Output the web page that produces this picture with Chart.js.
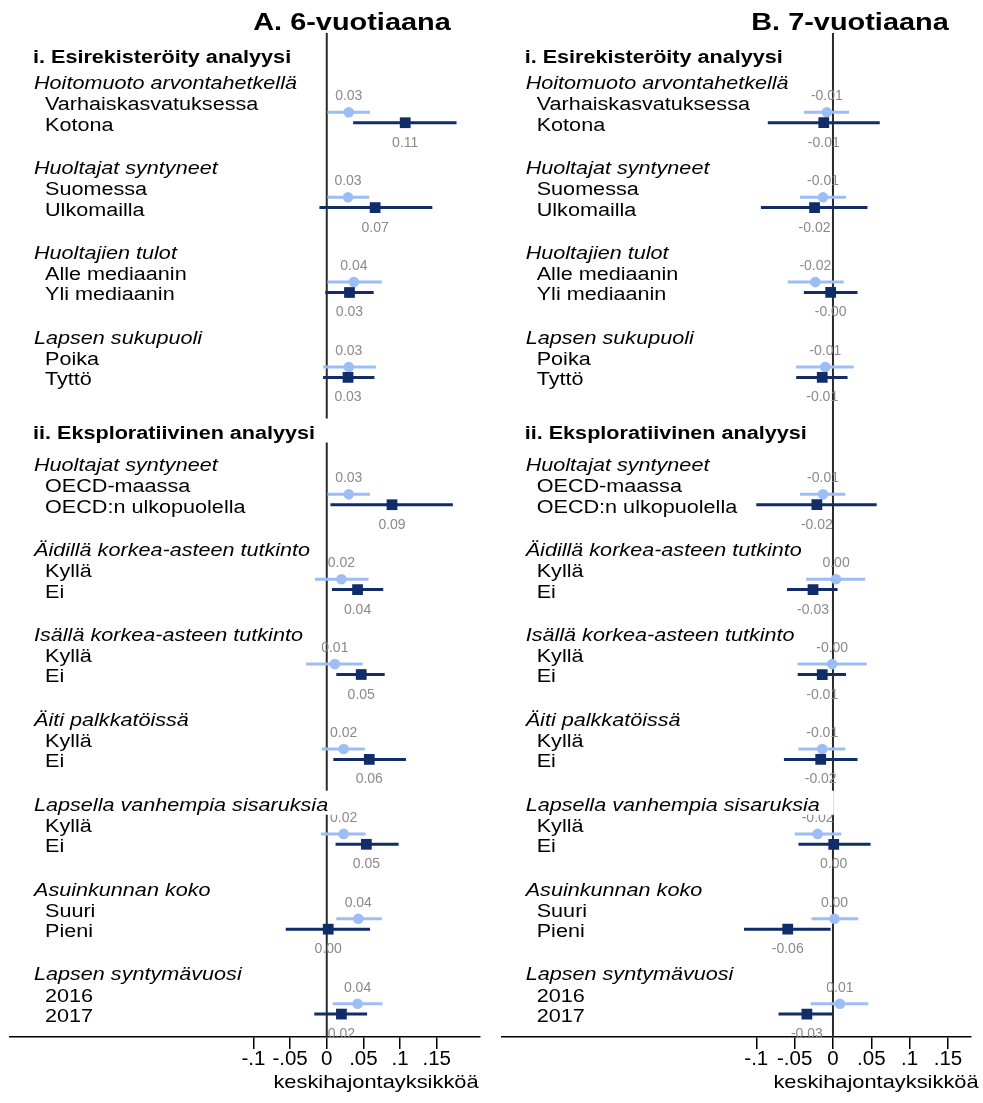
<!DOCTYPE html>
<html>
<head>
<meta charset="utf-8">
<script src="https://cdn.jsdelivr.net/npm/chart.js@4/dist/chart.umd.min.js"></script>
<style>
  html, body { margin: 0; padding: 0; background: #fff; }
  #wrap { position: relative; width: 983px; height: 1103px; background: #fff; }
  canvas { position: absolute; top: 0; }
</style>
</head>
<body>
<div id="wrap">
  <canvas id="panelA" width="491" height="1103" style="left:0;width:491px;height:1103px"></canvas>
  <canvas id="panelB" width="492" height="1103" style="left:491px;width:492px;height:1103px"></canvas>
</div>
<script>
// ---- labels ----
const sectionTitles = ['i. Esirekisteröity analyysi', 'ii. Eksploratiivinen analyysi'];
const groupTitles = [
  'Hoitomuoto arvontahetkellä', 'Huoltajat syntyneet', 'Huoltajien tulot', 'Lapsen sukupuoli',
  'Huoltajat syntyneet', 'Äidillä korkea-asteen tutkinto', 'Isällä korkea-asteen tutkinto',
  'Äiti palkkatöissä', 'Lapsella vanhempia sisaruksia', 'Asuinkunnan koko', 'Lapsen syntymävuosi'
];
const firstRowLabels = ['Varhaiskasvatuksessa', 'Suomessa', 'Alle mediaanin', 'Poika', 'OECD-maassa',
  'Kyllä', 'Kyllä', 'Kyllä', 'Kyllä', 'Suuri', '2016'];
const secondRowLabels = ['Kotona', 'Ulkomailla', 'Yli mediaanin', 'Tyttö', 'OECD:n ulkopuolella',
  'Ei', 'Ei', 'Ei', 'Ei', 'Pieni', '2017'];
const tickValues = [-0.1, -0.05, 0, 0.05, 0.1, 0.15];
const tickLabels = ['-.1', '-.05', '0', '.05', '.1', '.15'];
const axisTitle = 'keskihajontayksikköä';

// ---- A. 6-vuotiaana ----
const estA1 = [0.030, 0.029, 0.037, 0.030, 0.030, 0.020, 0.011, 0.023, 0.023, 0.043, 0.042];
const loA1  = [0.001, 0.001, 0.001, -0.005, 0.001, -0.016, -0.028, -0.007, -0.008, 0.013, 0.008];
const hiA1  = [0.059, 0.058, 0.075, 0.067, 0.059, 0.057, 0.049, 0.052, 0.053, 0.075, 0.076];
const estA2 = [0.107, 0.066, 0.031, 0.029, 0.089, 0.042, 0.047, 0.058, 0.054, 0.002, 0.020];
const loA2  = [0.036, -0.010, -0.002, -0.005, 0.005, 0.007, 0.013, 0.009, 0.012, -0.056, -0.017];
const hiA2  = [0.177, 0.144, 0.064, 0.065, 0.172, 0.077, 0.079, 0.108, 0.098, 0.059, 0.055];

// ---- B. 7-vuotiaana ----
const estB1 = [-0.008, -0.013, -0.023, -0.010, -0.013, 0.004, -0.001, -0.014, -0.020, 0.002, 0.009];
const loB1  = [-0.038, -0.043, -0.059, -0.048, -0.043, -0.035, -0.046, -0.045, -0.050, -0.028, -0.029];
const hiB1  = [0.021, 0.017, 0.014, 0.027, 0.016, 0.042, 0.044, 0.016, 0.011, 0.033, 0.046];
const estB2 = [-0.012, -0.024, -0.003, -0.014, -0.021, -0.026, -0.014, -0.016, 0.001, -0.059, -0.034];
const loB2  = [-0.085, -0.094, -0.038, -0.048, -0.100, -0.060, -0.046, -0.064, -0.045, -0.116, -0.071];
const hiB2  = [0.061, 0.045, 0.032, 0.019, 0.057, 0.006, 0.017, 0.032, 0.049, -0.003, -0.001];

// ---- styling ----
const LIGHT = '#9dbdf7';
const DARK = '#112d69';
const VALUE_GREY = '#8a8a8a';
const FAMILY = '"Liberation Sans", Arial, Helvetica, sans-serif';
const SX = 1.15;               // horizontal stretch of the row texts
const LABEL_PX = 18.8;

// each group takes four text lines; section ii starts after two extra lines
function groupPos(k) { return 4 + 4 * k + (k >= 4 ? 2 : 0); }
const FIRST_ROW_SHIFT = 0.49;

function drawStretched(ctx, text, x, y, font, color, align, sx) {
  ctx.save();
  ctx.font = font;
  ctx.fillStyle = color;
  ctx.textAlign = align;
  ctx.textBaseline = 'alphabetic';
  ctx.translate(x, y);
  ctx.scale(sx, 1);
  ctx.fillText(text, 0, 0);
  ctx.restore();
}

function ciLine(lo, hi, shift) {
  const out = [];
  lo.forEach((l, k) => {
    const y = groupPos(k) - shift;
    out.push({ x: l, y: y }, { x: hi[k], y: y }, { x: hi[k], y: null });
  });
  return out;
}
function points(est, shift) {
  return est.map((v, k) => ({ x: v, y: groupPos(k) - shift }));
}

function buildPanel(id, p) {
  const zeroLine = {
    id: 'zeroLine',
    beforeDatasetsDraw(chart) {
      const { ctx, chartArea, scales } = chart;
      const x = scales.x.getPixelForValue(0);
      ctx.save();
      ctx.strokeStyle = '#2a2a2a';
      ctx.lineWidth = 2;
      ctx.beginPath();
      ctx.moveTo(x, chartArea.top);
      ctx.lineTo(x, chartArea.bottom);
      ctx.stroke();
      ctx.restore();
    }
  };
  const texts = {
    id: 'texts',
    afterDatasetsDraw(chart) {
      const { ctx, chartArea, scales } = chart;
      const xs = scales.x, ys = scales.y;
      const valueFont = '14px ' + FAMILY;
      // value labels
      p.est1.forEach((v, k) => {
        const px = xs.getPixelForValue(v);
        const py = ys.getPixelForValue(groupPos(k) - FIRST_ROW_SHIFT);
        drawStretched(ctx, v.toFixed(2), px, py - 12, valueFont, VALUE_GREY, 'center', 1);
      });
      p.est2.forEach((v, k) => {
        const px = xs.getPixelForValue(v);
        const py = ys.getPixelForValue(groupPos(k));
        drawStretched(ctx, v.toFixed(2), px, py + 24, valueFont, VALUE_GREY, 'center', 1);
      });
      // row texts sit on white boxes
      const left = chartArea.left;
      const boldFont = 'bold ' + LABEL_PX + 'px ' + FAMILY;
      const italicFont = 'italic ' + LABEL_PX + 'px ' + FAMILY;
      const plainFont = LABEL_PX + 'px ' + FAMILY;
      const items = [
        [sectionTitles[0], left + 23, ys.getPixelForValue(1.2), boldFont],
        [sectionTitles[1], left + 23, ys.getPixelForValue(18.88), boldFont]
      ];
      groupTitles.forEach((g, k) => {
        const base = ys.getPixelForValue(groupPos(k));
        items.push([g, left + 24, base - 33.6, italicFont]);
        items.push([firstRowLabels[k], left + 35, base - 12.5, plainFont]);
        items.push([secondRowLabels[k], left + 35, base + 7.9, plainFont]);
      });
      ctx.save();
      ctx.fillStyle = '#ffffff';
      items.forEach(([t, x, y, f]) => {
        ctx.font = f;
        const w = ctx.measureText(t).width * SX;
        ctx.fillRect(x - 2, y - 20, w + 16, 24);
      });
      ctx.restore();
      items.forEach(([t, x, y, f]) => drawStretched(ctx, t, x, y, f, '#000', 'left', SX));
    },
    afterDraw(chart) {
      const { ctx } = chart;
      drawStretched(ctx, p.title, p.titleX, 29.5, 'bold 24.5px ' + FAMILY, '#000', 'center', 1.18);
      drawStretched(ctx, axisTitle, p.axisTitleX, 1087.5, '19px ' + FAMILY, '#000', 'center', SX);
    }
  };

  return new Chart(document.getElementById(id), {
    type: 'scatter',
    data: {
      datasets: [
        { data: points(p.est2, 0), pointStyle: 'rect', pointRadius: 7.6, pointHoverRadius: 7.6,
          backgroundColor: DARK, borderColor: DARK, pointBorderWidth: 0 },
        { data: points(p.est1, FIRST_ROW_SHIFT), pointStyle: 'circle', pointRadius: 5.3, pointHoverRadius: 5.3,
          backgroundColor: LIGHT, borderColor: LIGHT, pointBorderWidth: 0 },
        { type: 'line', data: ciLine(p.lo2, p.hi2, 0), borderColor: DARK, borderWidth: 3,
          pointRadius: 0, spanGaps: false, fill: false, tension: 0 },
        { type: 'line', data: ciLine(p.lo1, p.hi1, FIRST_ROW_SHIFT), borderColor: LIGHT, borderWidth: 3,
          pointRadius: 0, spanGaps: false, fill: false, tension: 0 }
      ]
    },
    options: {
      responsive: false,
      devicePixelRatio: 1,
      animation: false,
      events: [],
      layout: { padding: { top: 33, bottom: 0, left: p.padLeft, right: p.padRight } },
      plugins: { legend: { display: false }, tooltip: { enabled: false }, title: { display: false } },
      scales: {
        x: {
          type: 'linear',
          min: p.xMin,
          max: p.xMax,
          afterBuildTicks(scale) { scale.ticks = tickValues.map(v => ({ value: v })); },
          afterFit(scale) { scale.height = 66; },
          ticks: {
            color: '#000',
            padding: 0,
            maxRotation: 0,
            autoSkip: false,
            font: { family: FAMILY, size: 20.5, lineHeight: 1 },
            callback(value, index) { return tickLabels[index]; }
          },
          grid: { drawOnChartArea: false, drawTicks: true, tickLength: 12, color: '#000', lineWidth: 1.5 },
          border: { display: true, color: '#000', width: 1.5 }
        },
        y: {
          type: 'linear',
          display: false,
          reverse: true,
          min: -0.227,
          max: 47.08
        }
      }
    },
    plugins: [zeroLine, texts]
  });
}

buildPanel('panelA', {
  title: 'A. 6-vuotiaana', titleX: 352, axisTitleX: 376,
  est1: estA1, lo1: loA1, hi1: hiA1, est2: estA2, lo2: loA2, hi2: hiA2,
  xMin: -0.432, xMax: 0.209, padLeft: 10, padRight: 11
});
buildPanel('panelB', {
  title: 'B. 7-vuotiaana', titleX: 359, axisTitleX: 385,
  est1: estB1, lo1: loB1, hi1: hiB1, est2: estB2, lo2: loB2, hi2: hiB2,
  xMin: -0.432, xMax: 0.180, padLeft: 10.7, padRight: 12
});
</script>
</body>
</html>
